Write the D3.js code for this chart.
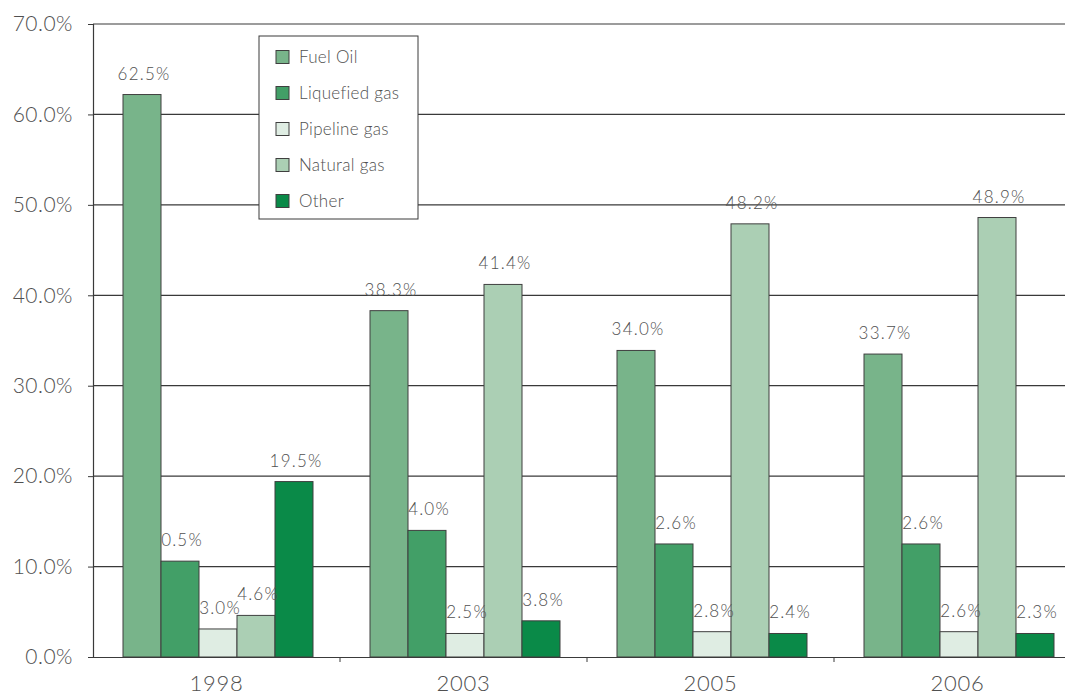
<!DOCTYPE html>
<html>
<head>
<meta charset="utf-8">
<script src="https://cdn.jsdelivr.net/npm/d3@7"></script>
<style>
  html, body { margin: 0; padding: 0; background: #fff; }
  svg { display: block; }
  text { font-family: Lato, "Open Sans", sans-serif; font-weight: 300; fill: #505050; }
</style>
</head>
<body>
<svg id="chart" width="1065" height="696"></svg>
<script>
const categories = ["1998", "2003", "2005", "2006"];
const seriesNames = ["Fuel Oil", "Liquefied gas", "Pipeline gas", "Natural gas", "Other"];
const seriesColors = ["#78b48a", "#429f67", "#dfede3", "#abcfb4", "#0a8a48"];
// bar heights as drawn (percent)
const fuelOil      = [62.2, 38.3, 33.9, 33.5];
const liquefiedGas = [10.6, 14.0, 12.5, 12.5];
const pipelineGas  = [3.1, 2.6, 2.8, 2.8];
const naturalGas   = [4.6, 41.2, 47.9, 48.6];
const other        = [19.4, 4.0, 2.6, 2.6];
// data label texts as printed
const fuelOilLbl      = ["62.5%", "38.3%", "34.0%", "33.7%"];
const liquefiedGasLbl = ["0.5%", "4.0%", "2.6%", "2.6%"];
const pipelineGasLbl  = ["3.0%", "2.5%", "2.8%", "2.6%"];
const naturalGasLbl   = ["4.6%", "41.4%", "48.2%", "48.9%"];
const otherLbl        = ["19.5%", "3.8%", "2.4%", "2.3%"];
const yTicks = [0, 10, 20, 30, 40, 50, 60, 70];

const seriesValues = [fuelOil, liquefiedGas, pipelineGas, naturalGas, other];
const seriesLabels = [fuelOilLbl, liquefiedGasLbl, pipelineGasLbl, naturalGasLbl, otherLbl];

const svg = d3.select("#chart");
const mLeft = 93, mTop = 24, mBottom = 657, bandW = 247;
const x = d3.scaleBand().domain(categories).range([mLeft, mLeft + bandW * categories.length]).paddingInner(0).paddingOuter(0);
const y = d3.scaleLinear().domain([0, 70]).range([mBottom, mTop]);
const inner = d3.scaleBand().domain(seriesNames).range([30, 30 + 38 * 5]);

// gridlines
svg.append("g").selectAll("line").data(yTicks.filter(d => d > 0)).join("line")
  .attr("x1", mLeft).attr("x2", 1065)
  .attr("y1", d => y(d)).attr("y2", d => y(d))
  .attr("stroke", "#3a3a3a").attr("stroke-width", 1.2);

// y axis
const yAxis = d3.axisLeft(y).tickValues(yTicks).tickSize(5).tickPadding(15)
  .tickFormat(d => d3.format(".1f")(d) + "%");
const yg = svg.append("g").attr("transform", `translate(${mLeft},0)`).call(yAxis);
yg.select(".domain").attr("stroke", "#3a3a3a").attr("stroke-width", 1.2);
yg.selectAll(".tick line").attr("stroke", "#3a3a3a");
yg.selectAll(".tick text").attr("font-size", 21).attr("fill", "#505050")
  .attr("font-family", "Lato, sans-serif").attr("font-weight", 300).attr("letter-spacing", "0.5px");

// bars
const data = [];
categories.forEach((c, ci) => seriesNames.forEach((s, si) => {
  data.push({ c, s, si, v: seriesValues[si][ci], lbl: seriesLabels[si][ci] });
}));
svg.append("g").selectAll("rect").data(data).join("rect")
  .attr("x", d => x(d.c) + inner(d.s))
  .attr("y", d => y(d.v))
  .attr("width", inner.bandwidth())
  .attr("height", d => y(0) - y(d.v))
  .attr("fill", d => seriesColors[d.si])
  .attr("stroke", "#3f3f3f").attr("stroke-width", 1);

// data labels
svg.append("g").selectAll("text").data(data).join("text")
  .attr("x", d => x(d.c) + inner(d.s) + inner.bandwidth() / 2 + 2)
  .attr("y", d => y(d.v) - 15)
  .attr("text-anchor", "middle")
  .attr("font-size", 17).attr("letter-spacing", "1.2px")
  .text(d => d.lbl);

// x axis
const xAxis = d3.axisBottom(x).tickSize(0).tickPadding(0);
const xg = svg.append("g").attr("transform", `translate(0,${mBottom})`).call(xAxis);
xg.select(".domain").attr("stroke", "#3a3a3a").attr("stroke-width", 1.2);
xg.selectAll(".tick text").attr("font-size", 22).attr("dy", null).attr("y", 34)
  .attr("fill", "#505050").attr("font-family", "Lato, sans-serif").attr("font-weight", 300)
  .attr("letter-spacing", "0.8px");
// category separators
svg.append("g").selectAll("line").data(categories.slice(1)).join("line")
  .attr("x1", d => x(d)).attr("x2", d => x(d))
  .attr("y1", mBottom).attr("y2", mBottom + 5)
  .attr("stroke", "#3a3a3a").attr("stroke-width", 1);

// legend
const lg = svg.append("g").attr("transform", "translate(259,36)");
lg.append("rect").attr("width", 159).attr("height", 183)
  .attr("fill", "#fff").attr("stroke", "#3a3a3a").attr("stroke-width", 1);
const items = lg.selectAll("g.item").data(seriesNames).join("g")
  .attr("transform", (d, i) => `translate(0,${21 + i * 36})`);
items.append("rect").attr("x", 17).attr("y", -6.5).attr("width", 13).attr("height", 13)
  .attr("fill", (d, i) => seriesColors[i]).attr("stroke", "#3f3f3f").attr("stroke-width", 1);
items.append("text").attr("x", 40).attr("y", 0).attr("dy", "0.35em")
  .attr("font-size", 17).attr("letter-spacing", "0.3px").text(d => d);
</script>
</body>
</html>
